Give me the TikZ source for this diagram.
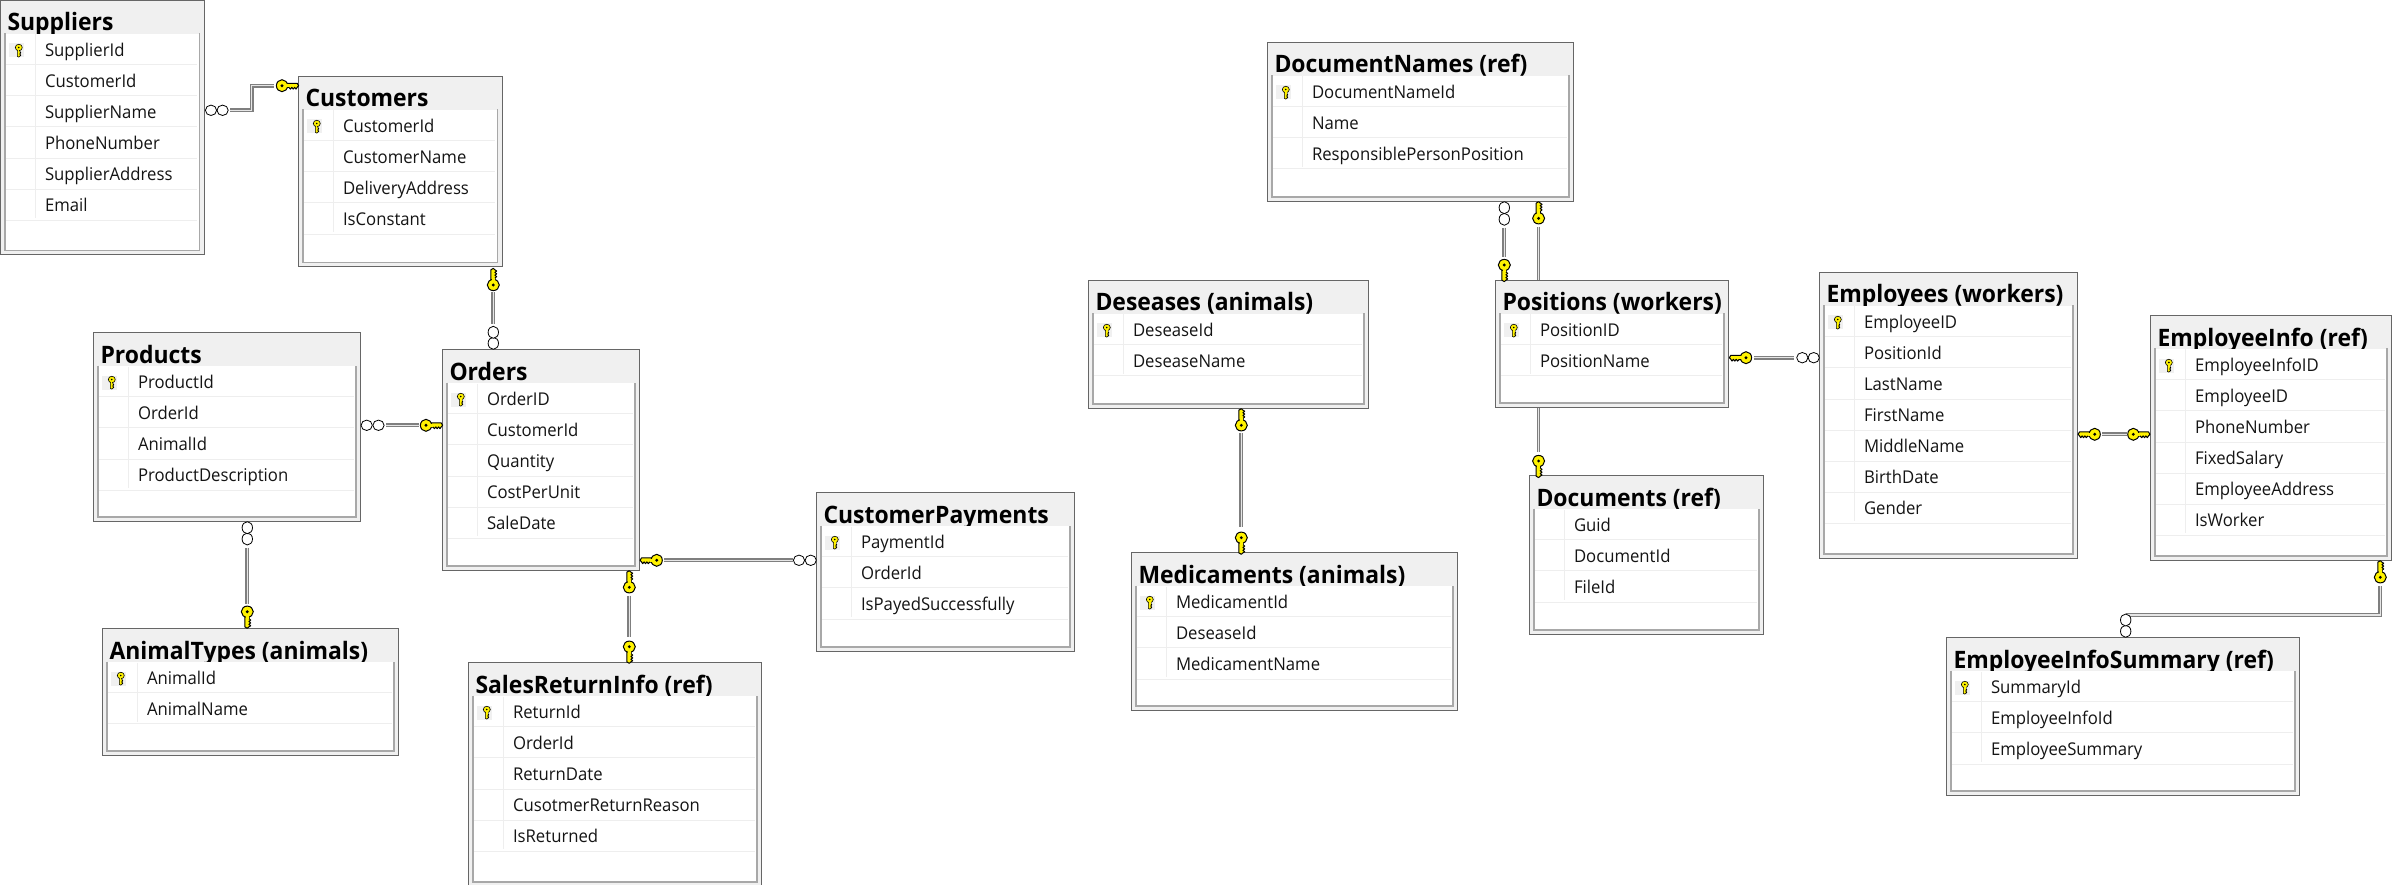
\documentclass[tikz,border=0pt]{standalone}
\usepackage{fontspec}
\setmainfont{Open Sans}
\newfontfamily\rowfont{Open Sans}[FakeStretch=0.95]
\newfontfamily\ttlfont{Open Sans}[BoldFeatures={FakeStretch=0.955}]
\definecolor{framedark}{HTML}{666666}
\definecolor{framelight}{HTML}{F0F0F0}
\definecolor{frameinner}{HTML}{A8A8A8}
\definecolor{rowsep}{HTML}{EEEEEE}
\definecolor{linkgray}{HTML}{7F7F7F}
\definecolor{linkcore}{HTML}{E6E6E6}
\tikzset{
  tframe/.style={draw=framedark,fill=framelight,line width=1pt,rectangle,inner sep=0pt,outer sep=0pt},
  ttl/.style={inner sep=0pt,outer sep=0pt,text=black,font=\ttlfont\fontsize{24}{26}\selectfont\bfseries},
  rowtxt/.style={inner sep=0pt,outer sep=0pt,text=black!92,font=\rowfont\fontsize{17.6}{20}\selectfont},
  link/.style={draw=linkgray,line width=1.15pt,double=linkcore,double distance=1.4pt,line join=miter,line cap=butt},
  dirE/.style={x={(#1pt,0pt)},y={(0pt,-#1pt)}},
  dirW/.style={x={(-#1pt,0pt)},y={(0pt,-#1pt)}},
  dirS/.style={x={(0pt,-#1pt)},y={(#1pt,0pt)}},
  dirN/.style={x={(0pt,#1pt)},y={(#1pt,0pt)}},
}
% key marker: #1 direction style, #2 x, #3 y (head centre), #4 scale, #5 line width
\newcommand{\keyglyph}[5]{%
  \begin{scope}[shift={(#2,#3)},#1=#4]
    \path[fill=yellow,draw=black,line width=#5pt,line join=round]
      (3,-2.4) -- (15.2,-2.4) -- (16.6,0) -- (15.2,1.6) -- (14,3.4) -- (12.6,1.6) -- (11.2,3.4) -- (9.8,1.6) -- (8.4,3.4) -- (7,1.8) -- (3,1.8) -- cycle;
    \path[fill=yellow,draw=black,line width=#5pt] (0,0) circle[x radius=5.6,y radius=6];
    \path[fill=yellow,draw=none] (2.5,-1.7) rectangle (7,1.2);
    \path[fill=black] (0,0) circle[x radius=1.6,y radius=1.6];
  \end{scope}}
\newcommand{\ooglyph}[5]{% #1,#2 first centre; #3,#4 second centre; #5 h or v
  \ifx#5h
    \path[draw=black,fill=white,line width=.8pt] (#3,#4) ellipse[x radius=5.6pt,y radius=5.2pt];
    \path[draw=black,fill=white,line width=.8pt] (#1,#2) ellipse[x radius=5.6pt,y radius=5.2pt];
  \else
    \path[draw=black,fill=white,line width=.8pt] (#3,#4) ellipse[x radius=5.2pt,y radius=6pt];
    \path[draw=black,fill=white,line width=.8pt] (#1,#2) ellipse[x radius=5.2pt,y radius=6pt];
  \fi}
% table: name, x0, y0, x1, y1, title, rows, key flag
\newcommand{\erdtable}[8]{%
  \pgfmathsetmacro{\tw}{#4-#2}\pgfmathsetmacro{\th}{#5-#3}%
  \node[tframe,anchor=north west,minimum width=\tw pt,minimum height=\th pt] (#1) at (#2,#3) {};
  \node[ttl,anchor=base west] (#1-t) at (#2+7,#3+30.5) {#6};
  \fill[white] (#2+4.5,#3+33.5) rectangle (#4-4.5,#5-4.5);
  \draw[frameinner,line width=1.1pt] (#2+4.5,#3+33) -- (#2+4.5,#5-4.5) -- (#4-4.5,#5-4.5) -- (#4-4.5,#3+33);
  \foreach \rowlabel [count=\rowno from 0] in {#7} {
    \pgfmathsetmacro{\rowbase}{#3+55.8+31.1*\rowno}
    \pgfmathsetmacro{\rowline}{#3+64.3+31.1*\rowno}
    \draw[rowsep,line width=1pt] (#2+5.5,\rowline) -- (#4-7,\rowline);
    \node[rowtxt,anchor=base west] (#1-r\rowno) at (#2+44.5,\rowbase) {\rowlabel};
    \xdef\lastline{\rowline}
  }
  \draw[rowsep,line width=1pt] (#2+34.5,#3+34) -- (#2+34.5,\lastline-2);
  \ifnum#8=1
    \fill[framelight] (#2+8,#3+43) rectangle (#2+23,#3+57);
    \keyglyph{dirS}{#2+18.3}{#3+47}{.58}{.6}
  \fi
}
\begin{document}
\begin{tikzpicture}[x=1pt,y=-1pt]
\useasboundingbox (0,0) rectangle (2402,885);
% connector end points
\coordinate (c1a) at (230,110.3); \coordinate (c1b) at (274,85.7);
\coordinate (c2a) at (493.3,292.3); \coordinate (c2b) at (493.3,324);
\coordinate (c3a) at (386.4,425.3); \coordinate (c3b) at (418.9,425.3);
\coordinate (c4a) at (247.3,547.7); \coordinate (c4b) at (247.3,604.3);
\coordinate (c5a) at (664.3,560.3); \coordinate (c5b) at (792.7,560.3);
\coordinate (c6a) at (629.3,595.7); \coordinate (c6b) at (629.3,637.3);
\coordinate (c7a) at (1504.3,227.7); \coordinate (c7b) at (1504.3,257.3);
\coordinate (c8a) at (1538.6,226.7); \coordinate (c8b) at (1538.6,451.7);
\coordinate (c9a) at (1754,357.7); \coordinate (c9b) at (1794,357.7);
\coordinate (c10a) at (2102.3,434.3); \coordinate (c10b) at (2126.7,434.3);
\coordinate (c11a) at (2380.3,586); \coordinate (c11b) at (2125.7,615);
\coordinate (c12a) at (1241.3,433.3); \coordinate (c12b) at (1241.3,527.3);
% connectors
\draw[link] (c1a) -- (251.7,110.3) -- (251.7,85.7) -- (c1b);
\draw[link] (c2a) -- (c2b);
\draw[link] (c3a) -- (c3b);
\draw[link] (c4a) -- (c4b);
\draw[link] (c5a) -- (c5b);
\draw[link] (c6a) -- (c6b);
\draw[link] (c7a) -- (c7b);
\draw[link] (c8a) -- (c8b);
\draw[link] (c9a) -- (c9b);
\draw[link] (c10a) -- (c10b);
\draw[link] (c11a) |- (c11b);
\draw[link] (c12a) -- (c12b);
% tables
\erdtable{sup}{0.5}{0.5}{204}{255}{Suppliers}{SupplierId,CustomerId,SupplierName,PhoneNumber,SupplierAddress,Email}{1}
\erdtable{cus}{298.5}{76.5}{502}{267}{Customers}{CustomerId,CustomerName,DeliveryAddress,IsConstant}{1}
\erdtable{pro}{93.5}{332.5}{360.5}{521.5}{Products}{ProductId,OrderId,AnimalId,ProductDescription}{1}
\erdtable{ord}{442.5}{349.5}{639.5}{570.5}{Orders}{OrderID,CustomerId,Quantity,CostPerUnit,SaleDate}{1}
\erdtable{pay}{816.5}{492.5}{1074.5}{651.5}{CustomerPayments}{PaymentId,OrderId,IsPayedSuccessfully}{1}
\erdtable{ani}{102.5}{628.5}{398.5}{755.5}{AnimalTypes (animals)}{AnimalId,AnimalName}{1}
\erdtable{ret}{468.5}{662.5}{761.5}{886.5}{SalesReturnInfo (ref)}{ReturnId,OrderId,ReturnDate,CusotmerReturnReason,IsReturned}{1}
\erdtable{dna}{1267.5}{42.5}{1573.5}{201.5}{DocumentNames (ref)}{DocumentNameId,Name,ResponsiblePersonPosition}{1}
\erdtable{des}{1088.5}{280.5}{1368.5}{408.5}{Deseases (animals)}{DeseaseId,DeseaseName}{1}
\erdtable{med}{1131.5}{552.5}{1457.5}{710.5}{Medicaments (animals)}{MedicamentId,DeseaseId,MedicamentName}{1}
\erdtable{pos}{1495.5}{280.5}{1728.5}{407.5}{Positions (workers)}{PositionID,PositionName}{1}
\erdtable{doc}{1529.5}{475.5}{1763.5}{634.5}{Documents (ref)}{Guid,DocumentId,FileId}{0}
\erdtable{emp}{1819.5}{272.5}{2077.5}{558.5}{Employees (workers)}{EmployeeID,PositionId,LastName,FirstName,MiddleName,BirthDate,Gender}{1}
\erdtable{inf}{2150.5}{315.5}{2391.5}{560.5}{EmployeeInfo (ref)}{EmployeeInfoID,EmployeeID,PhoneNumber,FixedSalary,EmployeeAddress,IsWorker}{1}
\erdtable{sum}{1946.5}{637.5}{2299.5}{795.5}{EmployeeInfoSummary (ref)}{SummaryId,EmployeeInfoId,EmployeeSummary}{1}
% end markers
\ooglyph{211}{110.3}{222.6}{110.3}{h}
\keyglyph{dirE}{282}{85.7}{1}{1}
\keyglyph{dirN}{493.3}{285}{1}{1}
\ooglyph{493.3}{332.3}{493.3}{343.3}{v}
\ooglyph{366.7}{425.3}{378.5}{425.3}{h}
\keyglyph{dirE}{426}{425.3}{1}{1}
\ooglyph{247.3}{527.7}{247.3}{539}{v}
\keyglyph{dirS}{247.3}{611.7}{1}{1}
\keyglyph{dirW}{656.7}{560.3}{1}{1}
\ooglyph{799}{560.3}{810.7}{560.3}{h}
\keyglyph{dirN}{629.3}{587.3}{1}{1}
\keyglyph{dirS}{629.3}{646.7}{1}{1}
\ooglyph{1504.3}{207.7}{1504.3}{219.3}{v}
\keyglyph{dirS}{1504.3}{265}{1}{1}
\keyglyph{dirN}{1538.6}{218.3}{1}{1}
\keyglyph{dirS}{1538.6}{461}{1}{1}
\keyglyph{dirW}{1746}{357.7}{1}{1}
\ooglyph{1802.3}{357.7}{1813.7}{357.7}{h}
\keyglyph{dirW}{2094.7}{434.3}{1}{1}
\keyglyph{dirE}{2133.3}{434.3}{1}{1}
\keyglyph{dirN}{2380.3}{577.3}{1}{1}
\ooglyph{2125.7}{620}{2125.7}{631.3}{v}
\keyglyph{dirN}{1241.3}{425.3}{1}{1}
\keyglyph{dirS}{1241.3}{537.7}{1}{1}
\end{tikzpicture}
\end{document}
